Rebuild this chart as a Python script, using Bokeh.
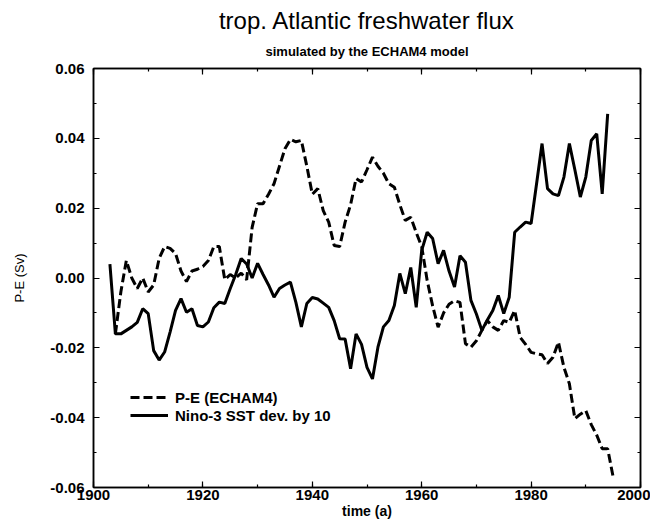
from bokeh.plotting import figure
from bokeh.models import (Range1d, LinearAxis, SingleIntervalTicker, NumeralTickFormatter,
                          CustomJSTickFormatter, Title, Legend, LegendItem)
from bokeh.embed import file_html
from bokeh.resources import INLINE

# ---------------- data ----------------
pe_years = list(range(1904, 1996))
pe_values = [
    -0.016, -0.004, 0.005, 0.000, -0.003, 0.000, -0.004, -0.002, 0.0056, 0.009,
    0.0085, 0.007, 0.002, -0.001, 0.002, 0.0025, 0.0033, 0.005, 0.009, 0.009,
    -0.0005, 0.001, 0.000, 0.0014, -0.0005, 0.0145, 0.0213, 0.0213, 0.024, 0.027,
    0.032, 0.037, 0.0397, 0.039, 0.0394, 0.032, 0.024, 0.0256, 0.0193, 0.016,
    0.0093, 0.009, 0.016, 0.021, 0.0285, 0.0275, 0.031, 0.0346, 0.032, 0.030,
    0.027, 0.026, 0.021, 0.0165, 0.0174, 0.013, 0.009, -0.0007, -0.008, -0.0141,
    -0.010, -0.0075, -0.0065, -0.007, -0.0188, -0.0198, -0.018, -0.015, -0.0122, -0.014,
    -0.015, -0.0122, -0.0127, -0.0093, -0.017, -0.019, -0.0213, -0.0217, -0.022, -0.0245,
    -0.0227, -0.0184, -0.0256, -0.0303, -0.0403, -0.039, -0.038, -0.042, -0.045, -0.0489,
    -0.0489, -0.057,
]

nino_years = list(range(1903, 1995))
nino_values = [
    0.004, -0.016, -0.016, -0.015, -0.014, -0.0127, -0.0088, -0.0102, -0.0208, -0.0235,
    -0.0212, -0.0155, -0.0093, -0.0059, -0.0098, -0.0088, -0.0136, -0.014, -0.0126, -0.0085,
    -0.0069, -0.0073, -0.003, 0.001, 0.0056, 0.004, 0.000, 0.0042, 0.001, -0.002,
    -0.0055, -0.003, -0.002, -0.0012, -0.007, -0.014, -0.0073, -0.0056, -0.006, -0.0072,
    -0.0084, -0.0122, -0.0174, -0.0175, -0.026, -0.016, -0.019, -0.0256, -0.0289, -0.0198,
    -0.014, -0.0122, -0.0079, 0.0013, -0.0045, 0.003, -0.0084, 0.0079, 0.0131, 0.0113,
    0.0041, 0.0079, 0.002, -0.0026, 0.0064, 0.0045, -0.0064, -0.0103, -0.015, -0.012,
    -0.0093, -0.005, -0.0102, -0.0055, 0.0131, 0.0146, 0.016, 0.0156, 0.027, 0.0385,
    0.0256, 0.0241, 0.0236, 0.0289, 0.0385, 0.031, 0.0232, 0.0289, 0.0394, 0.0413,
    0.0241, 0.047,
]

title_text = "trop. Atlantic freshwater flux"
subtitle_text = "simulated by the ECHAM4 model"
x_label = "time (a)"
y_label = "P-E (Sv)"
legend_labels = ["P-E (ECHAM4)", "Nino-3 SST dev. by 10"]

FONT = "Liberation Sans"

p = figure(width=650, height=522, output_backend="svg", toolbar_location=None,
           x_range=Range1d(1900, 2000), y_range=Range1d(-0.06, 0.06),
           title=None, x_axis_label=x_label, y_axis_label=y_label,
           min_border_left=93, min_border_right=10, min_border_top=68, min_border_bottom=35)
p.grid.visible = False
p.background_fill_color = "white"
p.border_fill_color = "white"
p.outline_line_color = "black"
p.outline_line_width = 1.5

def style_axis(ax, show_labels=True):
    ax.axis_line_color = "black"
    ax.axis_line_width = 1.5
    ax.major_tick_in = 6
    ax.major_tick_out = 0
    ax.minor_tick_in = 3
    ax.minor_tick_out = 0
    ax.major_tick_line_color = "black"
    ax.minor_tick_line_color = "black"
    ax.major_tick_line_width = 1.2
    ax.minor_tick_line_width = 1.2
    ax.major_label_text_font = FONT
    ax.major_label_text_font_style = "bold"
    ax.major_label_text_font_size = "15px"
    ax.major_label_text_color = "black"
    ax.axis_label_text_color = "black"
    ax.axis_label_text_font = FONT
    if not show_labels:
        ax.formatter = CustomJSTickFormatter(code="return ''")
        ax.major_label_text_font_size = "1px"
        ax.major_label_standoff = 0

xa = p.xaxis[0]
xa.ticker = SingleIntervalTicker(interval=20, num_minor_ticks=2)
style_axis(xa)
xa.major_label_standoff = 2
xa.axis_label_standoff = 0
xa.axis_label_text_font_size = "14px"
xa.axis_label_text_font_style = "bold"

ya = p.yaxis[0]
ya.ticker = SingleIntervalTicker(interval=0.02, num_minor_ticks=2)
ya.formatter = NumeralTickFormatter(format="0.00")
style_axis(ya)
ya.major_label_standoff = 9
ya.axis_label_standoff = 20
ya.axis_label_text_font_size = "13px"
ya.axis_label_text_font_style = "normal"

ra = LinearAxis(ticker=SingleIntervalTicker(interval=0.02, num_minor_ticks=2))
style_axis(ra, show_labels=False)
p.add_layout(ra, "right")
ta = LinearAxis(ticker=SingleIntervalTicker(interval=20, num_minor_ticks=2))
style_axis(ta, show_labels=False)
p.add_layout(ta, "above")

p.add_layout(Title(text=subtitle_text, align="center", text_font=FONT, text_font_size="13px",
                   text_font_style="bold", text_color="black", standoff=20), "above")
p.add_layout(Title(text=title_text, align="center", text_font=FONT, text_font_size="24px",
                   text_font_style="normal", text_color="black", standoff=-4), "above")

r_pe = p.line(pe_years, pe_values, line_color="black", line_width=3, line_dash="9 4")
r_nino = p.line(nino_years, nino_values, line_color="black", line_width=3)

legend = Legend(items=[LegendItem(label=legend_labels[0], renderers=[r_pe]),
                       LegendItem(label=legend_labels[1], renderers=[r_nino])],
                location=(37, 63), background_fill_alpha=0, border_line_alpha=0,
                padding=0, spacing=0, margin=0, glyph_width=38, glyph_height=18,
                label_height=18, label_standoff=7, label_text_font=FONT,
                label_text_font_size="15px", label_text_font_style="bold",
                label_text_color="black")
p.add_layout(legend, "center")

open("out.html", "w").write(file_html(p, INLINE))
